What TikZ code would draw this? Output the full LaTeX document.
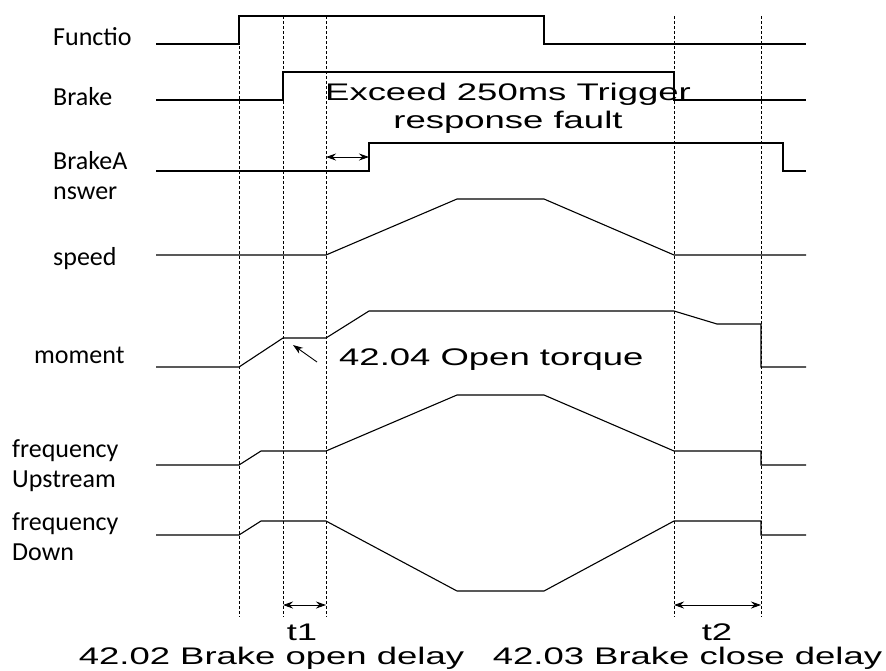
\documentclass[tikz,border=0pt]{standalone}
\usepackage{fontspec}
\setmainfont{Carlito}
\newfontfamily\widefont[FakeStretch=1.52]{Liberation Sans}
\usetikzlibrary{arrows.meta, positioning}

\begin{document}
\begin{tikzpicture}[
  x=1pt, y=-1pt,
  signal/.style={line width=1.1pt, line join=miter},
  guide/.style={densely dashed, line width=0.6pt},
  dimline/.style={{Stealth[length=10pt,width=7pt]}-{Stealth[length=10pt,width=7pt]}, line width=0.9pt},
  pointer/.style={-{Stealth[length=10pt,width=7pt]}, line width=0.9pt},
  sig/.style={anchor=base west, align=left, inner sep=0pt,
    font=\fontsize{26}{29.5}\selectfont},
  note/.style={inner sep=0pt, align=center,
    font=\widefont\fontsize{24}{28}\selectfont}
]
\useasboundingbox (0,0) rectangle (886,670);

% signal names (base = last line)
\node[sig] (fn)  at (53,45)  {Functio};
\node[sig] (br)  at (53,105) {Brake};
\node[sig] (ba)  at (53,199) {BrakeA\\nswer};
\node[sig] (sp)  at (53,265) {speed};
\node[sig] (mo)  at (34,363) {moment};
\node[sig] (fu)  at (12,487) {frequency\\Upstream};
\node[sig] (fd)  at (12,560) {frequency\\Down};

% guide lines
\foreach \gx/\gn in {239/a, 283/b, 326/c, 674/d, 761/e} {
  \coordinate (top\gn) at (\gx,16);
  \coordinate (bot\gn) at (\gx,617);
  \draw[guide] (top\gn) -- (bot\gn);
}

% waveforms
\draw[signal] (156,44) -- (239,44) -- (239,16) -- (544,16) -- (544,44) -- (806,44);
\draw[signal] (156,100) -- (283,100) -- (283,72) -- (674,72) -- (674,100) -- (806,100);
\draw[signal] (156,171) -- (369,171) -- (369,143) -- (783,143) -- (783,171) -- (806,171);
\draw[signal] (156,255) -- (326,255) -- (457,199) -- (544,199) -- (674,255) -- (806,255);
\draw[signal] (156,367) -- (239,367) -- (283,338) -- (326,338) -- (369,311)
  -- (674,311) -- (717,324) -- (761,324) -- (761,367) -- (806,367);
\draw[signal] (156,465) -- (239,465) -- (261,451) -- (326,451) -- (457,395)
  -- (544,395) -- (674,451) -- (761,451) -- (761,465) -- (806,465);
\draw[signal] (156,535) -- (239,535) -- (261,521) -- (326,521) -- (457,591)
  -- (544,591) -- (674,521) -- (761,521) -- (761,535) -- (806,535);

% notes
\node[note, anchor=base] (fault) at (508,128) {Exceed 250ms Trigger\\response fault};
\coordinate (ans) at (369,157);
\draw[dimline] (topc |- ans) -- (ans);

\node[note, anchor=base west] (torque) at (339,365) {42.04 Open torque};
\coordinate (tq) at (317,362);
\coordinate (tqtip) at (293,345);
\draw[pointer] (tq) -- (tqtip);

\draw[dimline] ([yshift=12pt]botb) -- ([yshift=12pt]botc);
\draw[dimline] ([yshift=12pt]botd) -- ([yshift=12pt]bote);
\node[note, anchor=base] (t1) at (302,640) {t1};
\node[note, anchor=base] (t2) at (717,640) {t2};
\node[note, anchor=base] (opendly)  at (271.5,664) {42.02 Brake open delay};
\node[note, anchor=base] (closedly) at (687.5,664) {42.03 Brake close delay};
\end{tikzpicture}
\end{document}
